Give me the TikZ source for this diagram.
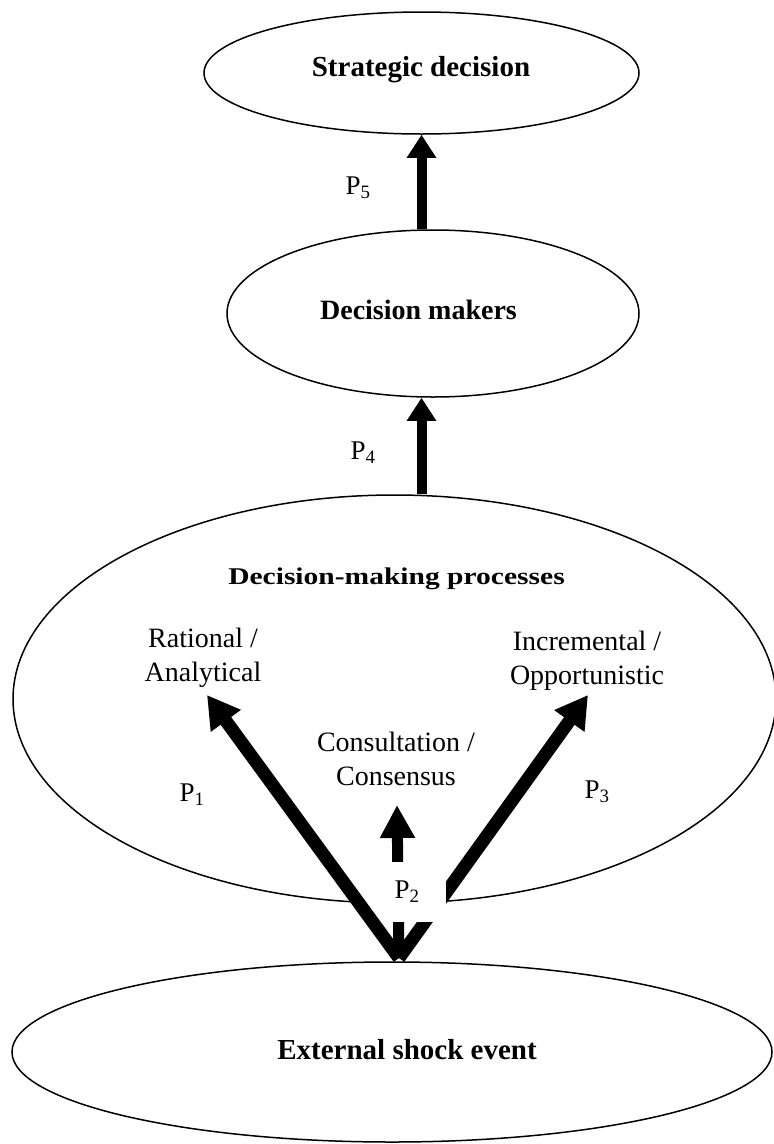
\documentclass[tikz,border=0pt]{standalone}
\usepackage{fontspec}
\setmainfont{Liberation Serif}
\usetikzlibrary{shapes.geometric,arrows.meta}
\begin{document}
\begin{tikzpicture}[x=1pt,y=-1pt,
  oval/.style={draw, ellipse, line width=1.5pt, inner sep=0pt},
  title/.style={font=\fontsize{29}{34}\selectfont\bfseries, inner sep=0pt},
  lab/.style={font=\fontsize{28}{34}\selectfont, align=center, inner sep=0pt},
  plab/.style={font=\fontsize{27}{32}\selectfont, inner sep=0pt},
  vflow/.style={line width=10pt, -{Triangle[length=23pt,width=28pt]}},
  dflow/.style={line width=13pt, -{Triangle[length=32pt,width=35pt]}},
  cflow/.style={line width=11pt, -{Triangle[length=33pt,width=33pt]}}]
\useasboundingbox (0,0) rectangle (774,1144);
\fill[white] (0,0) rectangle (774,1144);

% ellipses
\node[oval, minimum width=435pt, minimum height=122pt] (sd) at (421.5,73) {};
\node[title] (sdt) at (421,70) {Strategic decision};
\node[oval, minimum width=412pt, minimum height=167pt] (dm) at (433,313.5) {};
\node[title, font=\fontsize{28}{34}\selectfont\bfseries] (dmt) at (418.5,310) {Decision makers};
\node[oval, minimum width=763pt, minimum height=408pt] (dmp) at (394.5,699) {};
\node[inner sep=0pt] (dmpt) at (396.5,579) {\scalebox{1.23}[1]{\fontsize{24}{28}\selectfont\bfseries Decision-making processes}};
\node[oval, minimum width=760pt, minimum height=180pt] (ese) at (392,1052) {};
\node[title] (eset) at (407,1050) {External shock event};

% process labels
\node[lab] (ra) at (203,658) {Rational /\\Analytical};
\node[lab] (io) at (587,661) {Incremental /\\Opportunistic};
\node[lab] (cc) at (396,759) {Consultation /\\Consensus};

% vertical arrows
\draw[vflow] (dm.north -| sd.south) -- (sd.south);
\draw[vflow] (dmp.north -| sd.south) -- (dm.south -| sd.south);
\node[plab] (p5) at (358,188) {P\textsubscript{5}};
\node[plab] (p4) at (363,453) {P\textsubscript{4}};

% arrows from external shock event
\coordinate (src) at (399,958);
\coordinate (t1) at (207,695);
\coordinate (t2) at (397,805);
\coordinate (t3) at (588,695);
\draw[dflow] (src) -- (t3);
\draw[cflow] (src) -- (t2);
\fill[white] (352,862) rectangle (446,922);
\node[plab] (p2) at (407,892) {P\textsubscript{2}};
\draw[dflow] (src) -- (t1);
\node[plab] (p1) at (192,795) {P\textsubscript{1}};
\node[plab] (p3) at (597,792) {P\textsubscript{3}};
\end{tikzpicture}
\end{document}
